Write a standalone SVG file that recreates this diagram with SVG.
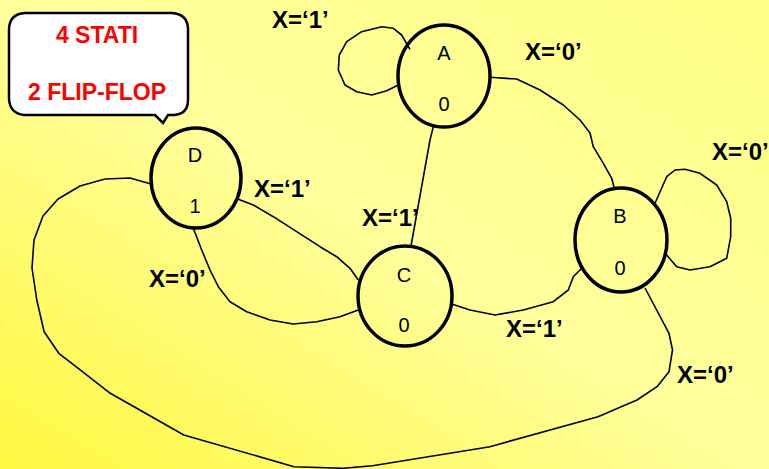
<svg xmlns="http://www.w3.org/2000/svg" width="769" height="469" viewBox="0 0 769 469">
<defs>
<linearGradient id="bg" x1="0" y1="1" x2="1" y2="0">
<stop offset="0" stop-color="#FFF740"/>
<stop offset="0.5" stop-color="#FFFF9C"/>
<stop offset="1" stop-color="#FFFF86"/>
</linearGradient>
<style>
.node{fill:none;stroke:#000;stroke-width:3.5}
.edge{fill:none;stroke:#000;stroke-width:1.6;stroke-linejoin:round}
.nt{font-family:"Liberation Sans",Arial,sans-serif;font-size:20px;fill:#000;text-anchor:middle}
.lbl{font-family:"Liberation Sans",Arial,sans-serif;font-size:24px;font-weight:bold;fill:#000}
.call{font-family:"Liberation Sans",Arial,sans-serif;font-size:23px;font-weight:bold;fill:#FF0000;text-anchor:middle}
</style>
</defs>
<rect width="769" height="469" fill="url(#bg)"/>
<g id="callout">
<path d="M25,13 Q9,14 9,30 L9,99 Q10,114 25,115 L155,115 L163,123 L168,115 L174,115 Q188,114 188,100 L188,28 Q187,14 172,13 Z" fill="#fff" stroke="#000" stroke-width="2.5"/>
<text class="call" x="97" y="43">4 STATI</text>
<text class="call" x="97" y="100">2 FLIP-FLOP</text>
</g>
<g id="connectors">
<polyline class="edge" points="398.3,85 386.7,90.7 371.7,95 356.7,91.7 345,85 338.3,70 339.3,55 346.7,41.7 361.7,31.7 381.7,26.7 393.3,28.3 401.7,35 410,49.3"/>
<polyline class="edge" points="490,77.3 516.7,79 540,90 563.3,105 580,120 590,133 593.3,146.7 603.3,163.3 611.7,178.3 614.3,188.3"/>
<polyline class="edge" points="433.3,126.7 430,140 411,246"/>
<polyline class="edge" points="655,203.3 666.7,176.7 675,170 685,169.3 700,173.3 716.7,185 726.7,201.7 730.7,218.3 730.7,236.7 726.7,258.3 710,266.7 690,270 676.7,266.7 666.7,255"/>
<polyline class="edge" points="581.7,268.3 573.3,276.7 568.3,290 553.3,301.7 523.3,310 495,315 470,310 451.7,304"/>
<polyline class="edge" points="238.3,199.3 253.3,205 273.3,216.7 296.7,231.7 320,246.7 336.7,256.7 350,268.3 358.3,280"/>
<polyline class="edge" points="193.3,228.3 201.7,250 210,270 218.3,286.7 230,301.7 246.7,311.7 270,320 293.3,324 316.7,321.7 340,316.7 358.3,310"/>
<polyline class="edge" points="151,184 130,178 105,179 80,186 58,199 43,216 34,240 32,268 36.8,300 44.1,331.7 58.8,353.3 76,366.7 110.3,393.3 183.8,435 294,466.7 343,468.3 372.5,465.7 490,446.7 598,416.7 637,400 657,386.7 669,371.7 672.5,350 669,333.3 654,305 645,288"/>
</g>
<g id="nodeA">
<ellipse class="node" cx="444" cy="76" rx="46" ry="51"/>
<text class="nt" x="444" y="60">A</text>
<text class="nt" x="444" y="111">0</text>
</g>
<g id="nodeB">
<ellipse class="node" cx="621" cy="240" rx="46" ry="52"/>
<text class="nt" x="620" y="223">B</text>
<text class="nt" x="620" y="275">0</text>
</g>
<g id="nodeC">
<ellipse class="node" cx="405" cy="296" rx="47" ry="50"/>
<text class="nt" x="404" y="282">C</text>
<text class="nt" x="404" y="332">0</text>
</g>
<g id="nodeD">
<ellipse class="node" cx="196" cy="178" rx="45" ry="50"/>
<text class="nt" x="195" y="162">D</text>
<text class="nt" x="195" y="213">1</text>
</g>
<g id="labels">
<text class="lbl" x="272" y="28">X=‘1’</text>
<text class="lbl" x="525" y="60">X=‘0’</text>
<text class="lbl" x="712" y="160">X=‘0’</text>
<text class="lbl" x="254" y="197">X=‘1’</text>
<text class="lbl" x="149" y="287">X=‘0’</text>
<text class="lbl" x="362" y="226">X=‘1’</text>
<text class="lbl" x="506" y="337">X=‘1’</text>
<text class="lbl" x="677" y="383">X=‘0’</text>
</g>
</svg>
